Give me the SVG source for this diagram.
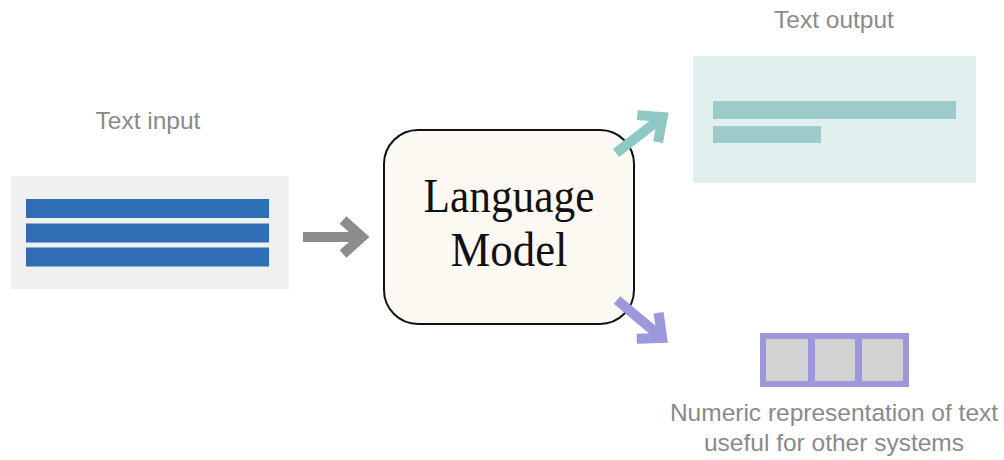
<svg xmlns="http://www.w3.org/2000/svg" width="1004" height="460" viewBox="0 0 1004 460">
<style>
.lbl{font-family:"Liberation Sans",Arial,sans-serif;font-size:24.5px;fill:#8a8a8a;text-anchor:middle}
.lm{font-family:"Liberation Serif","Times New Roman",serif;font-size:49px;fill:#111;text-anchor:middle}
.arr{fill:none;stroke-width:10;stroke-linejoin:miter;stroke-linecap:butt}
</style>
<defs>
<path id="arrow" d="M0,0 H57 M40,-17 L59,0 L40,17"/>
</defs>
<rect width="1004" height="460" fill="#ffffff"/>
<g id="text-input">
<text class="lbl" x="148" y="129">Text input</text>
<rect x="11" y="176" width="278" height="113" fill="#f0f0f0"/>
<rect x="26" y="199" width="243" height="19" fill="#2f6db5"/>
<rect x="26" y="223.5" width="243" height="19" fill="#2f6db5"/>
<rect x="26" y="247.5" width="243" height="19" fill="#2f6db5"/>
</g>
<g id="language-model">
<rect x="384" y="130" width="250" height="194" rx="34" ry="34" fill="#fcf9f3" stroke="#111" stroke-width="2"/>
<text class="lm" x="509" y="212" textLength="171" lengthAdjust="spacingAndGlyphs">Language</text>
<text class="lm" x="509" y="266" textLength="117" lengthAdjust="spacingAndGlyphs">Model</text>
</g>
<g id="text-output">
<text class="lbl" x="834" y="28">Text output</text>
<rect x="693" y="56" width="283" height="127" fill="#dff0ee"/>
<rect x="713" y="101" width="243" height="18" fill="#9ccbc9"/>
<rect x="713" y="126" width="108" height="17" fill="#9ccbc9"/>
</g>
<g id="numeric">
<rect x="763" y="336" width="143" height="48" fill="#d2d2d2" stroke="#9d97dc" stroke-width="6"/>
<rect x="808" y="336" width="7" height="48" fill="#9d97dc"/>
<rect x="855" y="336" width="7" height="48" fill="#9d97dc"/>
<text class="lbl" x="834" y="421">Numeric representation of text</text>
<text class="lbl" x="834" y="451">useful for other systems</text>
</g>
<g id="connectors">
<use href="#arrow" class="arr" stroke="#8c8c8c" transform="translate(303,237)"/>
<use href="#arrow" class="arr" stroke="#8ec8c4" transform="translate(616,153) rotate(-37.6)"/>
<use href="#arrow" class="arr" stroke="#9d97dc" transform="translate(617,300) rotate(40)"/>
</g>
</svg>
